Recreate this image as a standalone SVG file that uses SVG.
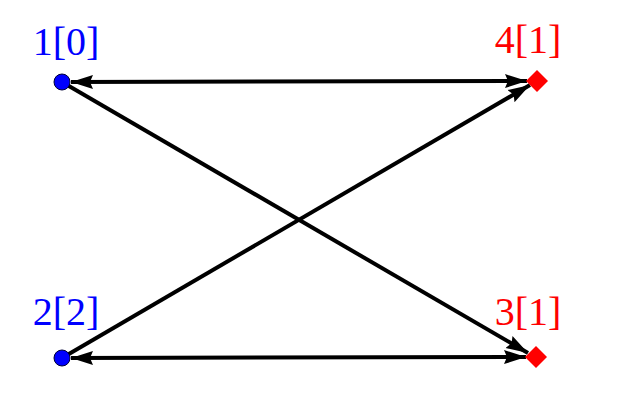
<svg xmlns="http://www.w3.org/2000/svg" width="617" height="401" viewBox="0 0 617 401">
<style>
.edge{stroke:#000;stroke-width:4;fill:none}
.lbl{font-family:"Liberation Serif","DejaVu Serif",serif;font-size:40px;text-anchor:middle}
.blue{fill:#0000ff}
.red{fill:#ff0000}
</style>
<defs>
<marker id="ah" viewBox="0 0 22 16" refX="22" refY="8" markerWidth="22" markerHeight="16" markerUnits="userSpaceOnUse" orient="auto-start-reverse">
<path d="M0,1 L22,8 L0,15 L3,8 Z" fill="#000"/>
</marker>
</defs>
<rect width="617" height="401" fill="#fff"/>
<g id="connectors">
<line class="edge" x1="71" y1="82" x2="527" y2="81" marker-start="url(#ah)" marker-end="url(#ah)"/>
<line class="edge" x1="71" y1="358" x2="526" y2="357" marker-start="url(#ah)" marker-end="url(#ah)"/>
<line class="edge" x1="62" y1="82" x2="528" y2="353" marker-end="url(#ah)"/>
<line class="edge" x1="62" y1="358" x2="530" y2="85" marker-end="url(#ah)"/>
</g>
<g id="node1">
<circle cx="62" cy="82" r="8" fill="#0000ff" stroke="#000033" stroke-width="1"/>
<text class="lbl blue" x="66" y="55">1[0]</text>
</g>
<g id="node2">
<circle cx="62" cy="358" r="8" fill="#0000ff" stroke="#000033" stroke-width="1"/>
<text class="lbl blue" x="66" y="325">2[2]</text>
</g>
<g id="node3">
<polygon points="536,346 547,357 536,368 525,357" fill="#ff0000"/>
<text class="lbl red" x="528" y="325">3[1]</text>
</g>
<g id="node4">
<polygon points="537,70 548,81 537,92 526,81" fill="#ff0000"/>
<text class="lbl red" x="528" y="53">4[1]</text>
</g>
</svg>
